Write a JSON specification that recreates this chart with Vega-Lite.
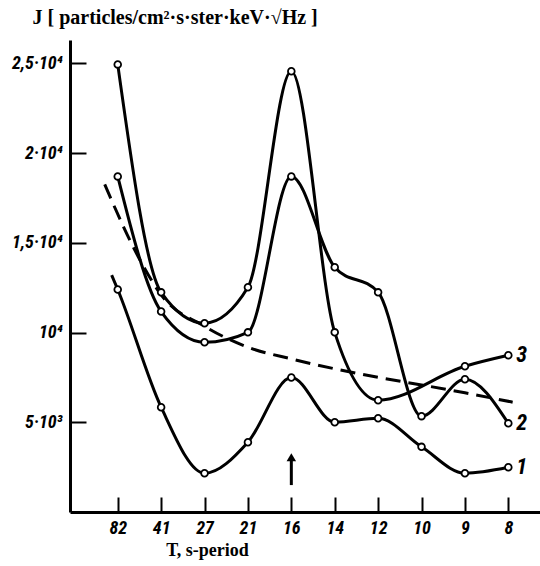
{
  "$schema": "https://vega.github.io/schema/vega-lite/v6.json",
  "width": 470,
  "height": 472,
  "autosize": {"type": "none"},
  "padding": {"left": 70, "top": 40, "right": 0, "bottom": 54},
  "background": "white",
  "config": {
    "view": {"stroke": null},
    "axis": {
      "grid": false,
      "domainColor": "black",
      "domainWidth": 3,
      "tickColor": "black",
      "tickWidth": 2,
      "labelColor": "black",
      "titleColor": "black"
    }
  },
  "datasets": {
    "curves": [
      {"curve": "3", "T": "82", "i": 0, "J": 24940, "measured": true},
      {"curve": "3", "T": "41", "i": 1, "J": 12240, "measured": true},
      {"curve": "3", "T": "27", "i": 2, "J": 10520, "measured": true},
      {"curve": "3", "T": "21", "i": 3, "J": 12520, "measured": true},
      {"curve": "3", "T": "16", "i": 4, "J": 24560, "measured": true},
      {"curve": "3", "T": "14", "i": 5, "J": 10010, "measured": true},
      {"curve": "3", "T": "12", "i": 6, "J": 6230, "measured": true},
      {"curve": "3", "T": "9", "i": 8, "J": 8120, "measured": true},
      {"curve": "3", "T": "8", "i": 9, "J": 8730, "measured": true},
      {"curve": "2", "T": "82", "i": 0, "J": 18700, "measured": true},
      {"curve": "2", "T": "41", "i": 1, "J": 11170, "measured": true},
      {"curve": "2", "T": "27", "i": 2, "J": 9460, "measured": true},
      {"curve": "2", "T": "21", "i": 3, "J": 10010, "measured": true},
      {"curve": "2", "T": "16", "i": 4, "J": 18700, "measured": true},
      {"curve": "2", "T": "14", "i": 5, "J": 13640, "measured": true},
      {"curve": "2", "T": "12", "i": 6, "J": 12240, "measured": true},
      {"curve": "2", "T": "10", "i": 7, "J": 5340, "measured": true},
      {"curve": "2", "T": "9", "i": 8, "J": 7400, "measured": true},
      {"curve": "2", "T": "8", "i": 9, "J": 4940, "measured": true},
      {"curve": "1", "T": "", "i": -0.14, "J": 13200, "measured": false},
      {"curve": "1", "T": "82", "i": 0, "J": 12400, "measured": true},
      {"curve": "1", "T": "41", "i": 1, "J": 5840, "measured": true},
      {"curve": "1", "T": "27", "i": 2, "J": 2160, "measured": true},
      {"curve": "1", "T": "21", "i": 3, "J": 3890, "measured": true},
      {"curve": "1", "T": "16", "i": 4, "J": 7490, "measured": true},
      {"curve": "1", "T": "14", "i": 5, "J": 5000, "measured": true},
      {"curve": "1", "T": "12", "i": 6, "J": 5220, "measured": true},
      {"curve": "1", "T": "10", "i": 7, "J": 3630, "measured": true},
      {"curve": "1", "T": "9", "i": 8, "J": 2160, "measured": true},
      {"curve": "1", "T": "8", "i": 9, "J": 2490, "measured": true}
    ],
    "fit": [
      {"i": -0.3, "J": 18250},
      {"i": 0.5, "J": 14100},
      {"i": 1, "J": 12100},
      {"i": 2, "J": 10350},
      {"i": 3, "J": 9180},
      {"i": 4, "J": 8530},
      {"i": 5, "J": 7980},
      {"i": 6, "J": 7500},
      {"i": 7, "J": 7080},
      {"i": 8, "J": 6640},
      {"i": 9.1, "J": 6120}
    ],
    "labels": [
      {"curve": "3", "i": 9, "J": 8730},
      {"curve": "2", "i": 9, "J": 4940},
      {"curve": "1", "i": 9, "J": 2490}
    ],
    "arrow": [
      {"i": 4, "J0": 1500, "J1": 2900, "Jtip": 3050}
    ]
  },
  "layer": [
    {
      "data": {"name": "fit"},
      "mark": {"type": "line", "interpolate": "monotone", "color": "black", "strokeWidth": 3, "strokeDash": [15, 8]},
      "encoding": {
        "x": {
          "field": "i", "type": "quantitative",
          "scale": {"domain": [-1.1, 9.73], "nice": false, "zero": false},
          "axis": {
            "values": [0, 1, 2, 3, 4, 5, 6, 7, 8, 9],
            "labelExpr": "['82','41','27','21','16','14','12','10','9','8'][datum.value]",
            "tickSize": -15,
            "labelPadding": 22,
            "labelFont": "Roboto Condensed, DejaVu Sans Condensed, Liberation Sans, sans-serif",
            "labelFontStyle": "italic",
            "labelFontWeight": "bold",
            "labelFontSize": 18,
            "title": "T, s-period",
            "titleFont": "Liberation Serif, serif",
            "titleFontWeight": "bold",
            "titleFontSize": 18,
            "titleAnchor": "start",
            "titleAlign": "center",
            "titleBaseline": "alphabetic",
            "titleX": 137,
            "titleY": 43
          }
        },
        "y": {
          "field": "J", "type": "quantitative",
          "scale": {"domain": [0, 26300], "nice": false},
          "axis": {
            "values": [5000, 10000, 15000, 20000, 25000],
            "labelExpr": "datum.value == 25000 ? '2,5·10⁴' : datum.value == 20000 ? '2·10⁴' : datum.value == 15000 ? '1,5·10⁴' : datum.value == 10000 ? '10⁴' : '5·10³'",
            "tickSize": -16,
            "labelPadding": 24,
            "labelFont": "Roboto Condensed, DejaVu Sans Condensed, Liberation Sans, sans-serif",
            "labelFontStyle": "italic",
            "labelFontWeight": "bold",
            "labelFontSize": 18,
            "title": "J [ particles/cm²·s·ster·keV·√Hz ]",
            "titleFont": "Liberation Serif, serif",
            "titleFontWeight": "bold",
            "titleFontSize": 20,
            "titleAngle": 0,
            "titleAlign": "left",
            "titleBaseline": "alphabetic",
            "titleX": -38,
            "titleY": -17
          }
        }
      }
    },
    {
      "data": {"name": "curves"},
      "mark": {"type": "line", "interpolate": "monotone", "color": "black", "strokeWidth": 3},
      "encoding": {
        "x": {"field": "i", "type": "quantitative"},
        "y": {"field": "J", "type": "quantitative"},
        "detail": {"field": "curve"},
        "order": {"field": "i"}
      }
    },
    {
      "data": {"name": "curves"},
      "transform": [{"filter": "datum.measured"}],
      "mark": {"type": "point", "shape": "circle", "filled": true, "fill": "white", "stroke": "black", "strokeWidth": 1.8, "size": 45, "opacity": 1},
      "encoding": {
        "x": {"field": "i", "type": "quantitative"},
        "y": {"field": "J", "type": "quantitative"}
      }
    },
    {
      "data": {"name": "labels"},
      "mark": {"type": "text", "align": "left", "baseline": "middle", "dx": 8, "font": "Roboto Condensed, DejaVu Sans Condensed, Liberation Sans, sans-serif", "fontStyle": "italic", "fontWeight": "bold", "fontSize": 22, "color": "black"},
      "encoding": {
        "x": {"field": "i", "type": "quantitative"},
        "y": {"field": "J", "type": "quantitative"},
        "text": {"field": "curve"}
      }
    },
    {
      "data": {"name": "arrow"},
      "mark": {"type": "rule", "color": "black", "strokeWidth": 3},
      "encoding": {
        "x": {"field": "i", "type": "quantitative"},
        "y": {"field": "J0", "type": "quantitative"},
        "y2": {"field": "J1"}
      }
    },
    {
      "data": {"name": "arrow"},
      "mark": {"type": "point", "shape": "triangle-up", "filled": true, "color": "black", "size": 90, "opacity": 1},
      "encoding": {
        "x": {"field": "i", "type": "quantitative"},
        "y": {"field": "Jtip", "type": "quantitative"}
      }
    }
  ]
}
